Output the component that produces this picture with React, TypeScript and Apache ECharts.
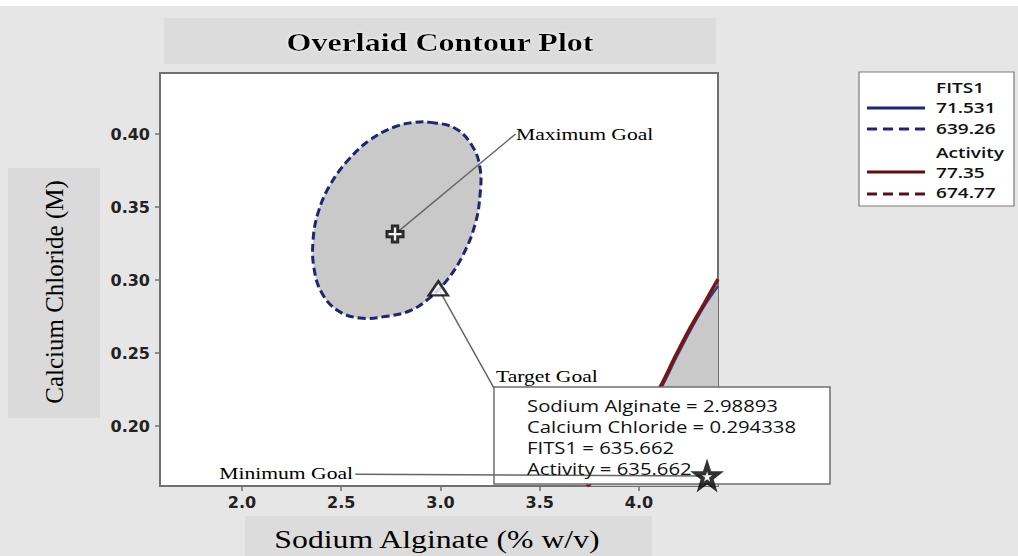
import React, { useEffect, useRef } from 'react';
import * as echarts from 'echarts';

// ---- data ----
const xTicks = [2.0, 2.5, 3.0, 3.5, 4.0];
const yTicks = [0.2, 0.25, 0.3, 0.35, 0.4];
const xRange = [1.587, 4.398];
const yRange = [0.159, 0.4418];

// FITS1 = 639.26 contour (closed ellipse, dashed)
const ellipseContour: number[][] = [
  [2.947, 0.408], [3.073, 0.404], [3.159, 0.392], [3.199, 0.377], [3.199, 0.358],
  [3.174, 0.338], [3.113, 0.317], [3.033, 0.3], [2.947, 0.288], [2.846, 0.279],
  [2.72, 0.275], [2.594, 0.274], [2.484, 0.279], [2.403, 0.291], [2.363, 0.308],
  [2.358, 0.327], [2.383, 0.346], [2.443, 0.365], [2.534, 0.382], [2.645, 0.396],
  [2.771, 0.405], [2.872, 0.408],
];
// Activity = 77.35 contour (solid dark red)
const activityContour: number[][] = [
  [4.398, 0.3007], [4.327, 0.2836], [4.257, 0.2671], [4.181, 0.2473],
  [4.106, 0.2267], [4.005, 0.2041], [3.894, 0.1822], [3.738, 0.1589],
];
// FITS1 = 71.531 contour (solid navy)
const fitsContour: number[][] = [
  [4.398, 0.296], [4.335, 0.2836], [4.265, 0.2671], [4.189, 0.2473],
  [4.114, 0.2267], [4.013, 0.2041], [3.902, 0.1822], [3.746, 0.1589],
];
const maximumGoal = [2.771, 0.3315];
const targetGoal = [2.98893, 0.294338];
const minimumGoal = [4.343, 0.1658];
const maxLabelAnchor = [3.378, 0.4];
const targetLabelAnchor = [3.2695, 0.226];
const minLabelAnchor = [2.571, 0.1671];

const legendGroups = ['FITS1', 'Activity'];
const fitsLevels = ['71.531', '639.26'];
const activityLevels = ['77.35', '674.77'];
const resultLines = [
  'Sodium Alginate = 2.98893',
  'Calcium Chloride = 0.294338',
  'FITS1 = 635.662',
  'Activity = 635.662',
];

const NAVY = '#1d2672';
const DARKRED = '#5e1010';
const SX = 1.27;

const txt = (text: string, x: number, y: number, o: any = {}) => ({
  type: 'text',
  x,
  y,
  scaleX: o.scaleX ?? SX,
  rotation: o.rotation ?? 0,
  z: o.z ?? 6,
  silent: true,
  style: {
    text,
    fontFamily: o.family ?? 'Open Sans',
    fontSize: o.size ?? 15,
    fontWeight: o.weight ?? 'normal',
    fill: o.fill ?? '#111',
    align: o.align ?? 'left',
    verticalAlign: 'middle',
    textShadowColor: o.shadow ? '#ffffff' : undefined,
    textShadowBlur: o.shadow ? 3 : 0,
  },
});

export default function App() {
  const ref = useRef<HTMLDivElement>(null);
  useEffect(() => {
    if (!ref.current) return;
    const chart = echarts.init(ref.current, null, { renderer: 'svg' });

    const polygonSeries = (pts: number[][], style: any, z: number, closeCorner: boolean, smooth: number) => ({
      type: 'custom',
      z,
      silent: true,
      clip: true,
      data: [pts[0]],
      renderItem: (_p: any, api: any) => {
        const all = closeCorner ? pts.concat([[xRange[1], yRange[0]]]) : pts;
        return {
          type: 'polygon',
          shape: { points: all.map((p) => api.coord(p)), smooth },
          style,
        };
      },
    });

    const leader = (a: number[], b: number[]) => ({
      type: 'line',
      data: [a, b],
      symbol: 'none',
      silent: true,
      z: 5,
      lineStyle: { color: '#666', width: 1.5 },
    });

    const legendX = 859;
    const graphic: any[] = [
      { type: 'rect', z: 0, shape: { x: 0, y: 0, width: 1018, height: 6 }, style: { fill: '#fff' } },
      { type: 'rect', z: 0, shape: { x: 164, y: 18, width: 552, height: 46 }, style: { fill: '#dcdcdc' } },
      { type: 'rect', z: 0, shape: { x: 8, y: 168, width: 92, height: 250 }, style: { fill: '#dadada' } },
      { type: 'rect', z: 0, shape: { x: 245, y: 516, width: 407, height: 40 }, style: { fill: '#dcdcdc' } },
      txt('Overlaid Contour Plot', 440, 42, { family: 'Liberation Serif', size: 25, weight: 'bold', align: 'center', shadow: true, fill: '#000', scaleX: 1.28 }),
      txt('Calcium Chloride (M)', 54, 292, { family: 'Liberation Serif', size: 25, align: 'center', rotation: Math.PI / 2, scaleX: 1, fill: '#000' }),
      txt('Sodium Alginate (% w/v)', 437, 540, { family: 'Liberation Serif', size: 25, align: 'center', fill: '#000' }),
      // legend
      { type: 'rect', z: 1, shape: { x: legendX, y: 72, width: 155, height: 134 }, style: { fill: '#fff', stroke: '#7a7a7a', lineWidth: 1.2 } },
      txt(legendGroups[0], 936, 87, { weight: 600, size: 15 }),
      { type: 'line', z: 2, shape: { x1: 867, y1: 108, x2: 925, y2: 108 }, style: { stroke: NAVY, lineWidth: 3 } },
      txt(fitsLevels[0], 936, 107, { weight: 600, size: 15 }),
      { type: 'line', z: 2, shape: { x1: 867, y1: 129, x2: 925, y2: 129 }, style: { stroke: NAVY, lineWidth: 3, lineDash: [10, 6] } },
      txt(fitsLevels[1], 936, 128, { weight: 600, size: 15 }),
      txt(legendGroups[1], 936, 152, { weight: 600, size: 15 }),
      { type: 'line', z: 2, shape: { x1: 867, y1: 172, x2: 925, y2: 172 }, style: { stroke: DARKRED, lineWidth: 3 } },
      txt(activityLevels[0], 936, 172, { weight: 600, size: 15 }),
      { type: 'line', z: 2, shape: { x1: 867, y1: 194, x2: 925, y2: 194 }, style: { stroke: DARKRED, lineWidth: 3, lineDash: [10, 6] } },
      txt(activityLevels[1], 936, 192, { weight: 600, size: 15 }),
      // annotation box
      { type: 'rect', z: 4, shape: { x: 494, y: 387, width: 336, height: 97 }, style: { fill: '#fff', stroke: '#6f6f6f', lineWidth: 1.5 } },
      ...resultLines.map((s, i) => txt(s, 527, 405 + i * 21, { size: 16 })),
      txt('Maximum Goal', 516, 134, { family: 'Liberation Serif', size: 17, fill: '#000' }),
      txt('Target Goal', 496, 376, { family: 'Liberation Serif', size: 17, fill: '#000' }),
      txt('Minimum Goal', 353, 473, { family: 'Liberation Serif', size: 17, align: 'right', fill: '#000' }),
    ];

    chart.setOption({
      animation: false,
      backgroundColor: '#e6e6e6',
      grid: {
        left: 160, right: 300, top: 73, bottom: 70,
        show: true, backgroundColor: '#fff', borderColor: '#707070', borderWidth: 2,
      },
      xAxis: {
        type: 'value', min: xRange[0], max: xRange[1],
        axisLine: { show: true, lineStyle: { color: '#707070', width: 2 } },
        axisTick: { show: true, customValues: xTicks, length: 5, lineStyle: { color: '#707070', width: 1.5 } },
        axisLabel: {
          customValues: xTicks, margin: 8, formatter: (v: number) => v.toFixed(1),
          fontFamily: 'DejaVu Sans', fontWeight: 'bold', fontSize: 16, color: '#222',
        },
        splitLine: { show: false },
      },
      yAxis: {
        type: 'value', min: yRange[0], max: yRange[1],
        axisLine: { show: true, lineStyle: { color: '#707070', width: 2 } },
        axisTick: { show: true, customValues: yTicks, length: 5, lineStyle: { color: '#707070', width: 1.5 } },
        axisLabel: {
          customValues: yTicks, margin: 10, formatter: (v: number) => v.toFixed(2),
          fontFamily: 'DejaVu Sans', fontWeight: 'bold', fontSize: 16, color: '#222',
        },
        splitLine: { show: false },
      },
      graphic,
      series: [
        polygonSeries(fitsContour, { fill: '#c9c9c9' }, 2, true, 0),
        polygonSeries(ellipseContour, { fill: '#c9c9c9', stroke: NAVY, lineWidth: 3, lineDash: [8, 4] }, 2, false, 0.4),
        {
          type: 'line', data: fitsContour, symbol: 'none', silent: true, z: 3, smooth: 0.3,
          lineStyle: { color: '#2c3d96', width: 2.5 },
        },
        {
          type: 'line', data: activityContour, symbol: 'none', silent: true, z: 3, smooth: 0.3,
          lineStyle: { color: '#7a1515', width: 3.5 },
        },
        leader(maximumGoal, maxLabelAnchor),
        leader(targetGoal, targetLabelAnchor),
        leader(minLabelAnchor, minimumGoal),
        {
          type: 'scatter', z: 7, silent: true, data: [maximumGoal],
          symbol: 'path://M6,0H12V6H18V12H12V18H6V12H0V6H6Z', symbolSize: 16,
          itemStyle: { color: '#fff', borderColor: '#000', borderWidth: 3 },
        },
        {
          type: 'scatter', z: 7, silent: true, data: [targetGoal],
          symbol: 'triangle', symbolSize: [19, 14],
          itemStyle: { color: '#fff', borderColor: '#000', borderWidth: 2.5 },
        },
        {
          type: 'scatter', z: 7, silent: true, data: [minimumGoal],
          symbol: 'path://M12,0L14.9,8.6L24,8.6L16.6,14L19.4,22.8L12,17.4L4.6,22.8L7.4,14L0,8.6L9.1,8.6Z',
          symbolSize: 22,
          itemStyle: { color: '#fff', borderColor: '#000', borderWidth: 4 },
        },
      ],
    });
    return () => chart.dispose();
  }, []);
  return <div ref={ref} style={{ position: 'absolute', left: 0, top: 0, width: 1018, height: 556 }} />;
}
